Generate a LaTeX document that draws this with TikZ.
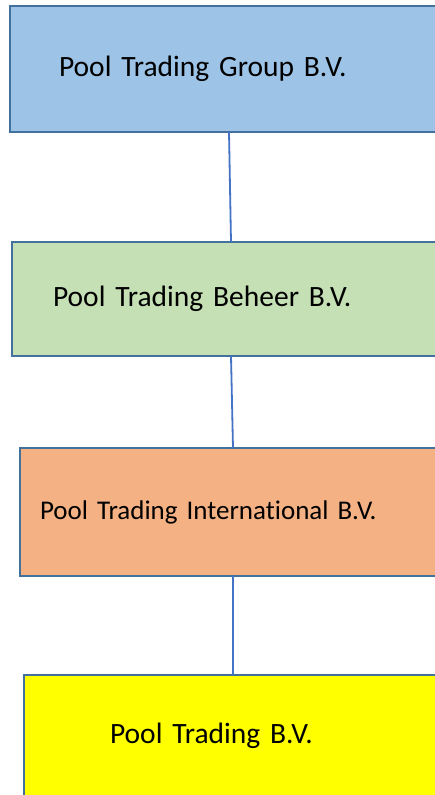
\documentclass[tikz,border=0pt]{standalone}
\usepackage{fontspec}
\setmainfont{Carlito}[Ligatures=NoCommon]
\usepackage{xcolor}

\definecolor{boxline}{HTML}{41719C}
\definecolor{linkline}{HTML}{4472C4}
\definecolor{groupblue}{HTML}{9DC3E6}
\definecolor{beheergreen}{HTML}{C5E0B4}
\definecolor{intlorange}{HTML}{F4B183}
\definecolor{tradeyellow}{HTML}{FFFF00}

\begin{document}
\begin{tikzpicture}[x=1pt,y=1pt,
  entity/.style={draw=boxline,line width=2pt,anchor=north west,outer sep=0pt,
    align=left,inner ysep=0pt,font=\fontsize{29.5}{34}\selectfont},
  link/.style={draw=linkline,line width=1.8pt}]
 \useasboundingbox (0,0) rectangle (435,-795);
 \clip (0,0) rectangle (435,-795);

 \node[entity,fill=groupblue,minimum height=126,text width=340,inner xsep=49] (group) at (10,-6) {Pool Trading Group B.V.};
 \node[entity,fill=beheergreen,minimum height=114,text width=356,inner xsep=41] (beheer) at (12,-242) {Pool Trading Beheer B.V.};
 \node[entity,fill=intlorange,minimum height=128,text width=386,inner xsep=20,font=\fontsize{27}{32}\selectfont] (intl) at (20,-448) {Pool Trading International B.V.};
 \node[entity,fill=tradeyellow,minimum height=122,text width=246,inner xsep=86] (trading) at (24,-675) {Pool Trading B.V.};

 \draw[link] (group.south) -- (beheer.north);
 \draw[link] (beheer.south) -- (intl.north);
 \draw[link] (intl.south) -- (trading.north);
\end{tikzpicture}
\end{document}
